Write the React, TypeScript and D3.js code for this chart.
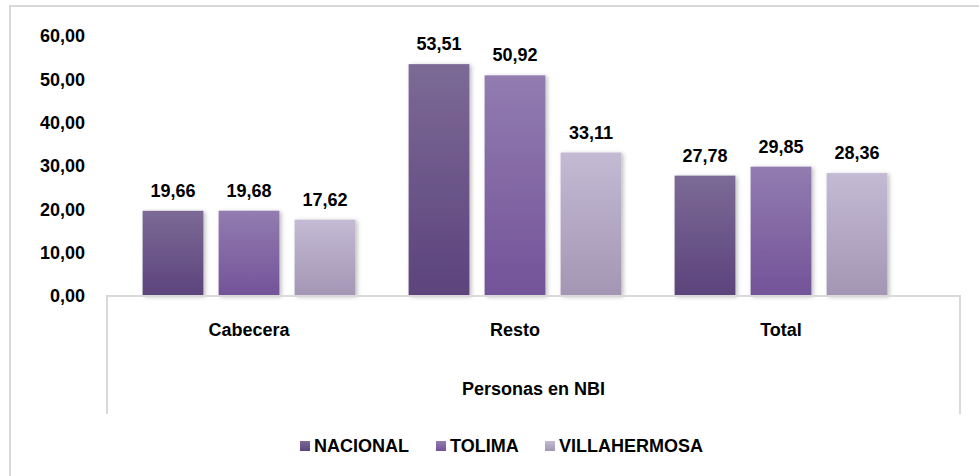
import React, { useEffect, useRef } from 'react';
import * as d3 from "d3";

// chart values
const categories = ["Cabecera", "Resto", "Total"];
const seriesNames = ["NACIONAL", "TOLIMA", "VILLAHERMOSA"];
const nacional = [19.66, 53.51, 27.78];
const tolima = [19.68, 50.92, 29.85];
const villahermosa = [17.62, 33.11, 28.36];
const yTicks = [0, 10, 20, 30, 40, 50, 60];
const axisTitle = "Personas en NBI";

const gradients = [
    { top: "#7c6a96", bottom: "#5c437c" },
    { top: "#927cb0", bottom: "#735399" },
    { top: "#c4bad4", bottom: "#a396b4" },
];

const FONT = "'Liberation Sans', Arial, sans-serif";

const createChart = (node) => {
    const width = 979;
    const height = 476;

    d3.select(node).selectAll("*").remove();

    const svg = d3.select(node)
        .attr("width", width)
        .attr("height", height)
        .style("font-family", FONT)
        .style("font-weight", "bold");

    const defs = svg.append("defs");
    gradients.forEach((g, i) => {
        const lg = defs.append("linearGradient")
            .attr("id", "grad" + i)
            .attr("x1", 0).attr("y1", 0).attr("x2", 0).attr("y2", 1);
        lg.append("stop").attr("offset", "0%").attr("stop-color", g.top);
        lg.append("stop").attr("offset", "100%").attr("stop-color", g.bottom);
    });
    defs.append("filter")
        .attr("id", "shadow")
        .attr("x", "-20%").attr("y", "-20%").attr("width", "140%").attr("height", "140%")
        .append("feDropShadow")
        .attr("dx", 2).attr("dy", 1).attr("stdDeviation", 2)
        .attr("flood-color", "#000").attr("flood-opacity", 0.25);

    // outer frame
    svg.append("rect")
        .attr("x", 10).attr("y", 6)
        .attr("width", 990).attr("height", 490)
        .attr("fill", "#fff")
        .attr("stroke", "#d9d9d9")
        .attr("stroke-width", 2);

    const y = d3.scaleLinear().domain([0, 60]).range([296, 36]);

    const x0 = d3.scaleBand()
        .domain(categories)
        .range([116, 914])
        .paddingInner(0.2)
        .paddingOuter(0.1);

    const x1 = d3.scaleBand()
        .domain(seriesNames)
        .range([0, x0.bandwidth()])
        .paddingInner(0.2);

    const seriesValues = [nacional, tolima, villahermosa];
    const rows = categories.map((c, ci) => ({
        category: c,
        values: seriesNames.map((s, si) => ({ key: s, idx: si, value: seriesValues[si][ci] })),
    }));

    // y tick labels
    svg.append("g")
        .selectAll("text")
        .data(yTicks)
        .enter().append("text")
        .attr("x", 85)
        .attr("y", (d) => y(d))
        .attr("dy", "0.35em")
        .attr("text-anchor", "end")
        .style("font-size", "18px")
        .text((d) => d3.format(".2f")(d).replace(".", ","));

    // bars
    const groups = svg.append("g")
        .selectAll("g")
        .data(rows)
        .enter().append("g")
        .attr("transform", (d) => "translate(" + x0(d.category) + ",0)");

    groups.selectAll("rect")
        .data((d) => d.values)
        .enter().append("rect")
        .attr("x", (d) => x1(d.key))
        .attr("y", (d) => y(d.value))
        .attr("width", x1.bandwidth())
        .attr("height", (d) => y(0) - y(d.value))
        .attr("fill", (d) => "url(#grad" + d.idx + ")")
        .attr("filter", "url(#shadow)");

    groups.selectAll("text")
        .data((d) => d.values)
        .enter().append("text")
        .attr("x", (d) => x1(d.key) + x1.bandwidth() / 2)
        .attr("y", (d) => y(d.value) - 14)
        .attr("text-anchor", "middle")
        .style("font-size", "18px")
        .text((d) => d3.format(".2f")(d.value).replace(".", ","));

    // category axis box
    const boxLeft = 107, boxRight = 960, boxBottom = 414;
    svg.append("path")
        .attr("d", `M${boxLeft},${boxBottom}V${y(0)}H${boxRight}V${boxBottom}`)
        .attr("fill", "none")
        .attr("stroke", "#d9d9d9")
        .attr("stroke-width", 2);

    svg.append("g")
        .selectAll("text")
        .data(categories)
        .enter().append("text")
        .attr("x", (d) => x0(d) + x0.bandwidth() / 2)
        .attr("y", 336)
        .attr("text-anchor", "middle")
        .style("font-size", "18px")
        .text((d) => d);

    svg.append("text")
        .attr("x", (boxLeft + boxRight) / 2)
        .attr("y", 395)
        .attr("text-anchor", "middle")
        .style("font-size", "18px")
        .text(axisTitle);

    // legend
    const legendX = [300, 436, 545];
    const legend = svg.append("g")
        .selectAll("g")
        .data(seriesNames)
        .enter().append("g")
        .attr("transform", (d, i) => "translate(" + legendX[i] + ",441)");
    legend.append("rect")
        .attr("width", 10).attr("height", 10)
        .attr("fill", (d, i) => "url(#grad" + i + ")");
    legend.append("text")
        .attr("x", 14)
        .attr("y", 5)
        .attr("dy", "0.35em")
        .style("font-size", "18px")
        .text((d) => d);
};

const App = () => {
    const ref = useRef(null);

    useEffect(() => {
        createChart(ref.current);
    }, []);

    return (
        <svg ref={ref} style={{ position: "absolute", left: 0, top: 0 }} />
    );
};

export default App;
